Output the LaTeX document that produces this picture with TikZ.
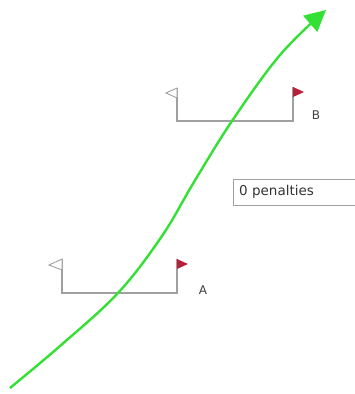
\documentclass[tikz,border=0pt]{standalone}
\usepackage{fontspec}
\setmainfont{DejaVu Sans}
\usetikzlibrary{arrows.meta}
\definecolor{gatec}{HTML}{A0A0A0}
\definecolor{flagred}{HTML}{B8203A}
\definecolor{pathgreen}{HTML}{33E033}
\begin{document}
\begin{tikzpicture}[x=1pt,y=-1pt,
  gate/.style={draw=gatec,line width=1.3pt},
  leftflag/.style={draw=gatec,fill=white,line width=0.9pt},
  rightflag/.style={fill=flagred},
  lbl/.style={font=\fontsize{12}{14}\selectfont,text=black!75,inner sep=0pt},
  path/.style={draw=pathgreen,line width=2.4pt,-{Triangle[length=21pt,width=21pt]}}]
\useasboundingbox (0,0) rectangle (354,394);
% gate B
\coordinate (b1) at (177,88);
\coordinate (b2) at (177,121);
\coordinate (b3) at (293,121);
\coordinate (b4) at (293,87);
\draw[gate] (b1) -- (b2) -- (b3) -- (b4);
\draw[leftflag] (b1) -- (166,93) -- (177,98) -- cycle;
\fill[rightflag] (b4) -- (304,92) -- (293,97) -- cycle;
\node[lbl] (lb) at (316,115) {B};
% gate A
\coordinate (a1) at (62,259);
\coordinate (a2) at (62,293);
\coordinate (a3) at (177,293);
\coordinate (a4) at (177,259);
\draw[gate] (a1) -- (a2) -- (a3) -- (a4);
\draw[leftflag] (a1) -- (49,265) -- (62,270) -- cycle;
\fill[rightflag] (a4) -- (188,264) -- (177,269) -- cycle;
\node[lbl] (la) at (203,290) {A};
% penalties box
\node[draw=gatec,line width=0.6pt,minimum width=122pt,minimum height=26pt,
      text width=110pt,align=left,inner xsep=6pt,inner ysep=4pt,font=\fontsize{13.5}{15}\selectfont,
      text=black!80] (pen) at (294,192) {0 penalties};
% skier path
\draw[path] plot[smooth,tension=0.6] coordinates {(10,388) (60,346) (118,293) (162,236) (194,182) (232,121) (280,55) (326,10)};
\end{tikzpicture}
\end{document}
